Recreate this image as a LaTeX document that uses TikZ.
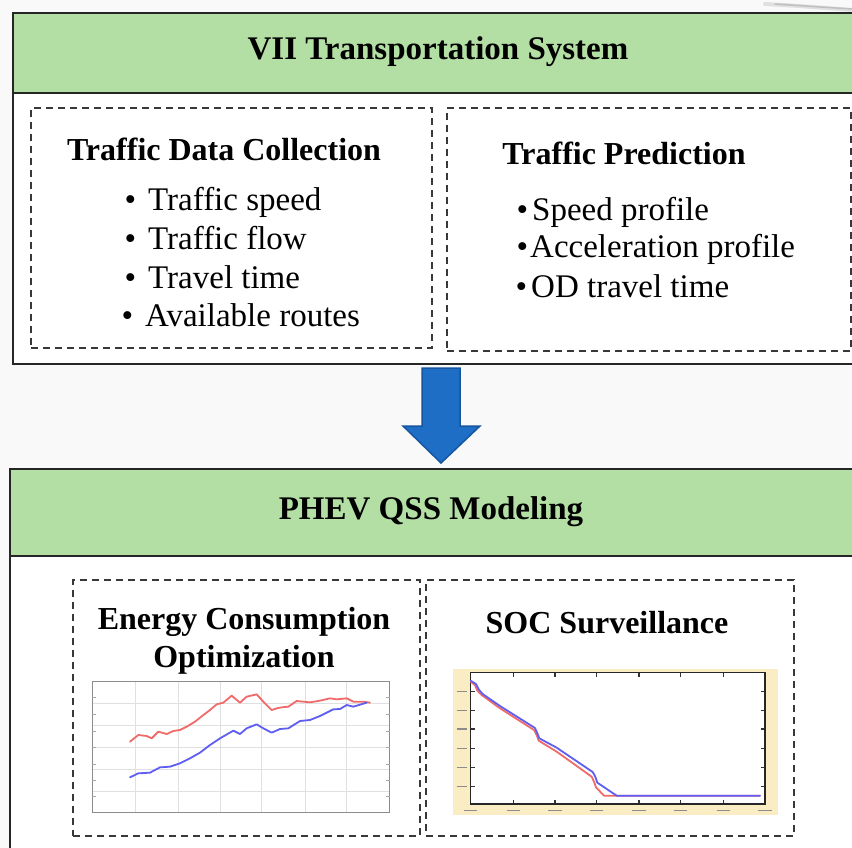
\documentclass[tikz,border=0pt]{standalone}
\usepackage{fontspec}
\setmainfont{Liberation Serif}
\definecolor{hdgreen}{HTML}{B3DEA4}
\definecolor{pagebg}{HTML}{F9F9F9}
\definecolor{arrowfill}{HTML}{1E6EC6}
\definecolor{arrowedge}{HTML}{1655A0}
\definecolor{socbg}{HTML}{FAEDC4}
\definecolor{curvered}{HTML}{F06A6A}
\definecolor{curveblue}{HTML}{5E5EF2}
\tikzset{
  frame/.style={draw=black!85, line width=1.8pt, inner sep=0pt, anchor=north west},
  head/.style={frame, fill=hdgreen},
  dbox/.style={draw=black!78, dash pattern=on 7pt off 5pt, line width=2pt, inner sep=0pt, anchor=north west},
  headtext/.style={font=\fontsize{33}{38}\selectfont\bfseries, inner sep=0pt},
  title/.style={font=\fontsize{32}{38}\selectfont\bfseries, inner sep=0pt},
  item/.style={font=\fontsize{33}{38}\selectfont, anchor=base west, inner sep=0pt},
  gridline/.style={draw=black!12, line width=0.8pt},
  curve/.style={line width=1.8pt, line join=round, line cap=round},
  ticklab/.style={draw=black!45, line width=1.3pt},
}
\newcommand{\bul}{\llap{\textbullet\hspace{12pt}}}
\begin{document}
\begin{tikzpicture}[x=1pt,y=-1pt]
\useasboundingbox (0,0) rectangle (852,848);
\clip (0,0) rectangle (852,848);
\fill[pagebg] (0,0) rectangle (852,848);
% soft shadow at the top right
\draw[black!12, line width=4pt, line cap=round] (765,4) .. controls (800,6) .. (852,10);
\draw[black!25, line width=1.5pt, line cap=round] (775,4) .. controls (805,6) .. (852,9);

% ---------------- upper block ----------------
\node[frame, fill=white, minimum width=880pt, minimum height=351pt] (sys) at (12,12) {};
\node[head, minimum width=880pt, minimum height=80pt] (syshead) at (12,12) {};
\node[headtext] (systitle) at (438,52) {VII Transportation System};

\node[dbox, minimum width=401pt, minimum height=240pt] (collect) at (30,107) {};
\node[dbox, minimum width=404pt, minimum height=243pt] (predict) at (446,107) {};

\node[title] (collecttitle) at (224,149) {Traffic Data Collection};
\node[item] (c1) at (148,211) {\bul Traffic speed};
\node[item] (c2) at (148,249) {\bul Traffic flow};
\node[item] (c3) at (148,288) {\bul Travel time};
\node[item] (c4) at (145,326) {\bul Available routes};

\node[title] (predicttitle) at (624,153) {Traffic Prediction};
\node[item] (p1) at (532,221) {\llap{\textbullet\hspace{4pt}}Speed profile};
\node[item] (p2) at (530,258) {\llap{\textbullet\hspace{2pt}}Acceleration profile};
\node[item] (p3) at (531,297) {\llap{\textbullet\hspace{4pt}}OD travel time};

% ---------------- lower block ----------------
\node[frame, fill=white, minimum width=880pt, minimum height=420pt] (phev) at (9,468) {};
\node[head, minimum width=880pt, minimum height=87pt] (phevhead) at (9,468) {};
\node[headtext] (phevtitle) at (431,512) {PHEV QSS Modeling};

\node[dbox, minimum width=347pt, minimum height=256pt] (energy) at (72,579) {};
\node[dbox, minimum width=368pt, minimum height=256pt] (soc) at (425,579) {};

\node[title, align=center] (energytitle) at (244,641)
  {Energy Consumption\\Optimization};
\node[title] (soctitle) at (607,623) {SOC Surveillance};

% ---------------- transition arrow ----------------
\coordinate (atop) at (441,368);
\coordinate (atip) at (441,463);
\filldraw[fill=arrowfill, draw=arrowedge, line width=1.5pt, line join=miter]
  ([xshift=-19pt]atop) -- ([xshift=19pt]atop) -- ([xshift=19pt]atop |- 0,426)
  -- ([xshift=39pt]atop |- 0,426) -- (atip) -- ([xshift=-38pt]atop |- 0,426)
  -- ([xshift=-19pt]atop |- 0,426) -- cycle;

% ---------------- energy chart ----------------
\begin{scope}[shift={(80,660)}, scale=1/3]
  \fill[white] (37,65) rectangle (930,458);
  \foreach \gx in {165,295,422,545,675,800} \draw[gridline] (\gx,65) -- (\gx,458);
  \foreach \gy in {130,197,263,328,393} \draw[gridline] (37,\gy) -- (930,\gy);
  \draw[black!45, line width=1pt] (37,65) rectangle (930,458);
  \foreach \ty in {113,163,213,262,312,360,410} {
    \draw[black!35, line width=0.8pt] (918,\ty) -- (930,\ty);
    \draw[black!35, line width=0.8pt] (37,\ty) -- (47,\ty);
  }
  \draw[curve, curvered] plot coordinates {(150,245) (175,225) (200,228) (215,235) (235,215)
    (260,222) (280,213) (300,210) (320,200) (345,185) (370,165) (390,150) (410,133) (430,128)
    (455,107) (480,128) (500,110) (530,103) (550,125) (575,150) (590,145) (605,142) (625,140)
    (650,123) (670,125) (690,127) (720,122) (750,115) (770,118) (800,115) (820,125) (850,125)
    (870,128)};
  \draw[curve, curveblue] plot coordinates {(150,352) (175,340) (210,338) (240,322) (270,320)
    (300,310) (330,295) (360,278) (390,255) (420,235) (460,212) (480,222) (500,205) (530,193)
    (550,205) (575,218) (600,207) (625,205) (660,183) (690,180) (720,168) (760,148) (780,147)
    (800,135) (820,140) (860,128)};
\end{scope}

% ---------------- SOC chart ----------------
\begin{scope}[shift={(440,650)}, scale=1/3]
  \fill[socbg] (40,58) rectangle (1015,495);
  \fill[white] (92,68) rectangle (975,462);
  \foreach \tx in {220,345,470,597,722,850} {
    \draw[black!80, line width=1.6pt] (\tx,68) -- (\tx,80);
    \draw[black!80, line width=1.6pt] (\tx,462) -- (\tx,450);
  }
  \foreach \ty in {125,182,237,295,352,410} {
    \draw[black!80, line width=1.6pt] (92,\ty) -- (104,\ty);
    \draw[black!80, line width=1.6pt] (975,\ty) -- (963,\ty);
    \draw[ticklab] (50,\ty) -- (80,\ty);
  }
  \foreach \tx in {92,220,345,470,597,722,850,975}
    \draw[ticklab] (\tx-20,482) -- (\tx+20,482);
  \draw[black!85, line width=1.3pt] (92,68) rectangle (975,462);
  \draw[curve, curvered] plot coordinates {(92,95) (105,105) (112,122) (125,135) (180,175)
    (282,240) (290,255) (296,272) (350,305) (455,380) (462,395) (468,412) (492,437) (960,437)};
  \draw[curve, curveblue] plot coordinates {(92,92) (108,102) (116,118) (128,132) (180,168)
    (285,234) (292,250) (298,265) (350,293) (458,366) (466,380) (472,398) (530,437) (960,437)};
\end{scope}
\end{tikzpicture}
\end{document}
